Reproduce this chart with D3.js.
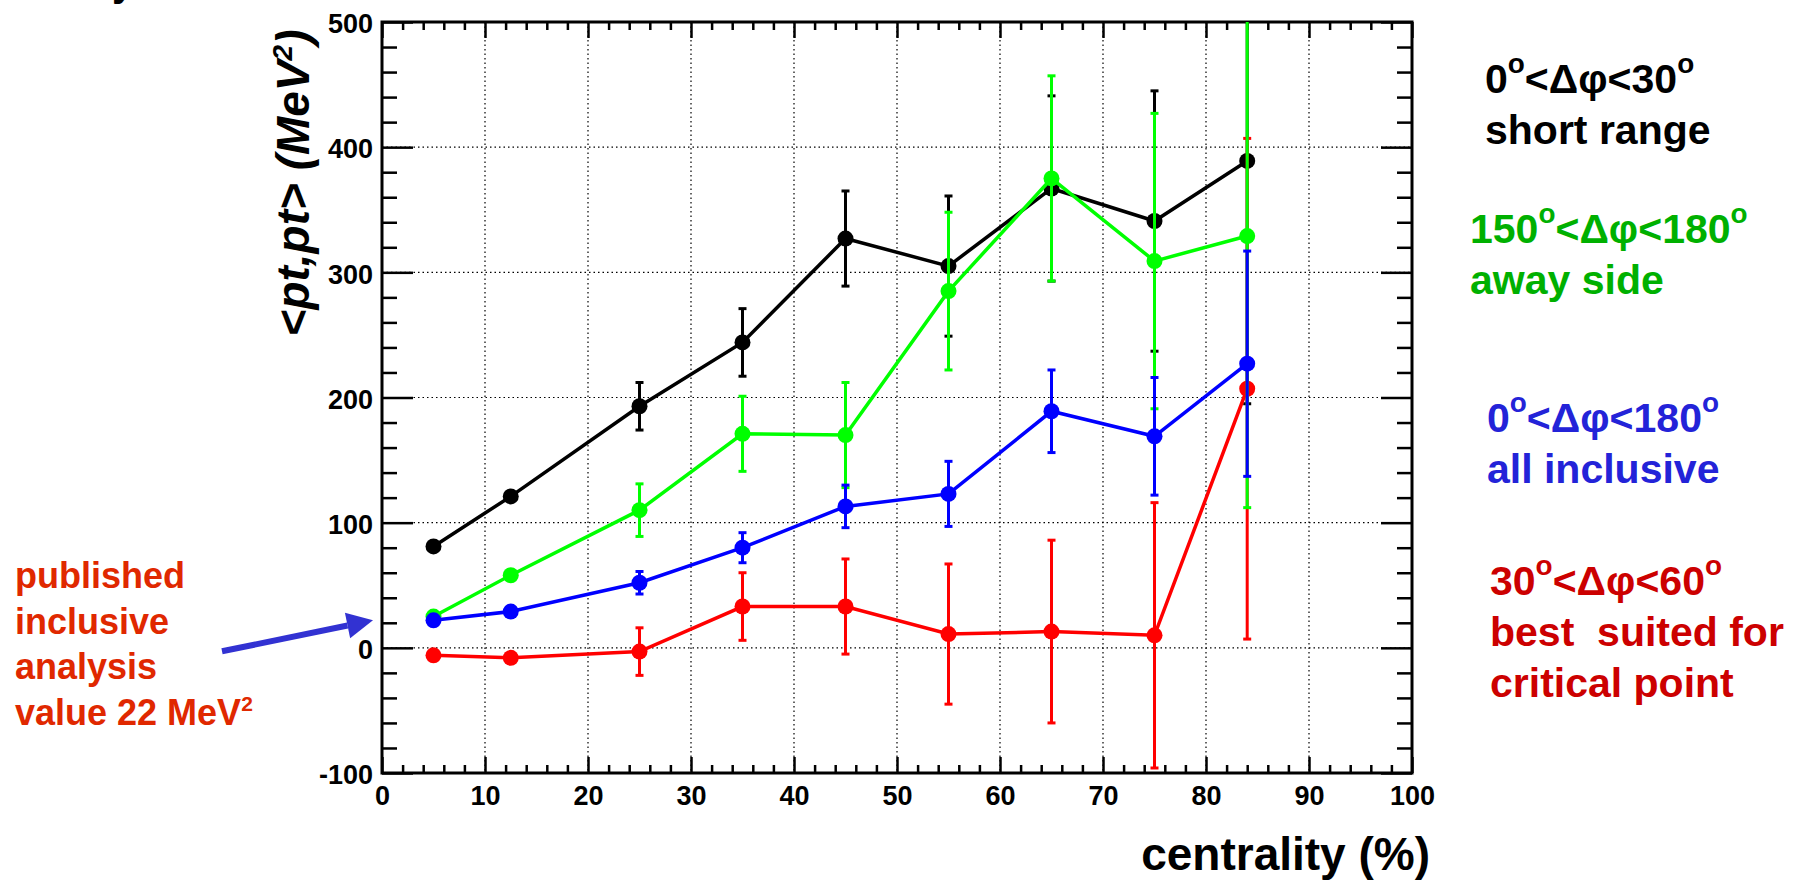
<!DOCTYPE html>
<html>
<head>
<meta charset="utf-8">
<script src="https://cdn.jsdelivr.net/npm/d3@7"></script>
<style>
  html, body { margin: 0; padding: 0; background: #fff; }
  svg { display: block; }
</style>
</head>
<body>
<svg id="chart" width="1801" height="882"></svg>
<script>
// Centrality bins (%) and <pt,pt> correlator values (MeV^2) with their errors
const centrality = [5, 12.5, 25, 35, 45, 55, 65, 75, 84];

const shortRange    = [81, 121, 193, 244, 327, 305, 367, 341, 389];
const shortRangeErr = [3, 3, 19, 27, 38, 56, 74, 104, 194];

const awaySide    = [25, 58, 110, 171, 170, 285, 375, 309, 329];
const awaySideErr = [4, 4, 21, 30, 42, 63, 82, 118, 217];

const inclusive    = [22, 29, 52, 80, 113, 123, 189, 169, 227];
const inclusiveErr = [4, 4, 9, 12, 17, 26, 33, 47, 90];

const criticalWin    = [-6, -8, -3, 33, 33, 11, 13, 10, 207];
const criticalWinErr = [3, 3, 19, 27, 38, 56, 73, 106, 200];

const xMajorTicks = [0, 10, 20, 30, 40, 50, 60, 70, 80, 90, 100];
const yMajorTicks = [-100, 0, 100, 200, 300, 400, 500];
const publishedValue = 22;

const SANS = "'Liberation Sans', Arial, Helvetica, sans-serif";
const NARROW = "'Liberation Sans Narrow', 'Liberation Sans', Arial, sans-serif";

const svg = d3.select("#chart");

const plot = { left: 382, right: 1412, top: 22, bottom: 773 };
const x = d3.scaleLinear().domain([0, 100]).range([plot.left, plot.right]);
const y = d3.scaleLinear().domain([-100, 500]).range([plot.bottom, plot.top]);

const xMinor = d3.range(0, 100.001, 2).filter(v => v % 10 !== 0);
const yMinor = d3.range(-100, 500.001, 20).filter(v => v % 100 !== 0);

// dotted grid
const grid = svg.append("g");
grid.selectAll("line.gx").data(xMajorTicks.slice(1, -1)).join("line")
  .attr("x1", d => x(d)).attr("x2", d => x(d))
  .attr("y1", plot.top).attr("y2", plot.bottom)
  .attr("stroke", "#000").attr("stroke-width", 1.2).attr("stroke-dasharray", "1.5,3");
grid.selectAll("line.gy").data(yMajorTicks.slice(1, -1)).join("line")
  .attr("y1", d => y(d)).attr("y2", d => y(d))
  .attr("x1", plot.left).attr("x2", plot.right)
  .attr("stroke", "#000").attr("stroke-width", 1.2).attr("stroke-dasharray", "1.5,3");

// axes with inward ticks
function styleAxis(g) {
  g.select(".domain").remove();
  g.selectAll(".tick line").attr("stroke", "#000").attr("stroke-width", 2.5);
}
function styleLabels(g) {
  g.selectAll("text")
    .attr("font-family", NARROW).attr("font-weight", "bold")
    .attr("font-size", 27).attr("fill", "#000");
}
const noLabel = () => "";
const plainNumber = d => String(d);

svg.append("g").attr("transform", `translate(0,${plot.bottom})`)
  .call(d3.axisBottom(x).tickValues(xMinor).tickSize(-8).tickFormat(noLabel)).call(styleAxis);
svg.append("g").attr("transform", `translate(0,${plot.bottom})`)
  .call(d3.axisBottom(x).tickValues(xMajorTicks).tickSize(-16).tickPadding(13).tickFormat(plainNumber))
  .call(styleAxis).call(styleLabels);

svg.append("g").attr("transform", `translate(0,${plot.top})`)
  .call(d3.axisTop(x).tickValues(xMinor).tickSize(-8).tickFormat(noLabel)).call(styleAxis);
svg.append("g").attr("transform", `translate(0,${plot.top})`)
  .call(d3.axisTop(x).tickValues(xMajorTicks).tickSize(-16).tickFormat(noLabel)).call(styleAxis);

svg.append("g").attr("transform", `translate(${plot.left},0)`)
  .call(d3.axisLeft(y).tickValues(yMinor).tickSize(-15).tickFormat(noLabel)).call(styleAxis);
svg.append("g").attr("transform", `translate(${plot.left},0)`)
  .call(d3.axisLeft(y).tickValues(yMajorTicks).tickSize(-31).tickPadding(9).tickFormat(plainNumber))
  .call(styleAxis).call(styleLabels)
  .call(g => g.selectAll("text").attr("dy", "0.4em"));

svg.append("g").attr("transform", `translate(${plot.right},0)`)
  .call(d3.axisRight(y).tickValues(yMinor).tickSize(-15).tickFormat(noLabel)).call(styleAxis);
svg.append("g").attr("transform", `translate(${plot.right},0)`)
  .call(d3.axisRight(y).tickValues(yMajorTicks).tickSize(-31).tickFormat(noLabel)).call(styleAxis);

// remove the empty label nodes of the unlabeled axes
svg.selectAll(".tick text").filter(function () { return this.textContent === ""; }).remove();

// frame
svg.append("rect")
  .attr("x", plot.left).attr("y", plot.top)
  .attr("width", plot.right - plot.left).attr("height", plot.bottom - plot.top)
  .attr("fill", "none").attr("stroke", "#000").attr("stroke-width", 3);

// data
svg.append("clipPath").attr("id", "plotClip").append("rect")
  .attr("x", plot.left).attr("y", plot.top)
  .attr("width", plot.right - plot.left).attr("height", plot.bottom - plot.top);

const series = [
  { values: shortRange,  errors: shortRangeErr,  color: "#000000" },
  { values: criticalWin, errors: criticalWinErr, color: "#ff0000" },
  { values: awaySide,    errors: awaySideErr,    color: "#00ff00" },
  { values: inclusive,   errors: inclusiveErr,   color: "#0000ff" }
];

const dataLayer = svg.append("g").attr("clip-path", "url(#plotClip)");
const line = d3.line().x(d => x(d.c)).y(d => y(d.v));

series.forEach(s => {
  const pts = centrality.map((c, i) => ({ c, v: s.values[i], e: s.errors[i] }));
  const g = dataLayer.append("g");
  g.append("path").datum(pts).attr("d", line)
    .attr("fill", "none").attr("stroke", s.color).attr("stroke-width", 3.5);
  const eb = g.selectAll("g.err").data(pts).join("g");
  eb.append("line")
    .attr("x1", d => x(d.c)).attr("x2", d => x(d.c))
    .attr("y1", d => y(d.v - d.e)).attr("y2", d => y(d.v + d.e))
    .attr("stroke", s.color).attr("stroke-width", 3);
  [-1, 1].forEach(sign => {
    eb.append("line")
      .attr("x1", d => x(d.c) - 4).attr("x2", d => x(d.c) + 4)
      .attr("y1", d => y(d.v + sign * d.e)).attr("y2", d => y(d.v + sign * d.e))
      .attr("stroke", s.color).attr("stroke-width", 3);
  });
  g.selectAll("circle").data(pts).join("circle")
    .attr("cx", d => x(d.c)).attr("cy", d => y(d.v)).attr("r", 8)
    .attr("fill", s.color);
});

// axis titles
svg.append("text")
  .attr("font-family", SANS).attr("font-weight", "bold").attr("font-style", "italic")
  .attr("transform", "translate(309,183) rotate(-90)")
  .attr("text-anchor", "middle").attr("font-size", 46)
  .call(t => {
    t.append("tspan").text("<pt,pt> (MeV");
    t.append("tspan").attr("font-size", 28).attr("dy", -17).text("2");
    t.append("tspan").attr("dy", 17).text(")");
  });

svg.append("text")
  .attr("font-family", SANS).attr("font-weight", "bold")
  .attr("x", 1430).attr("y", 870).attr("text-anchor", "end").attr("font-size", 46)
  .text("centrality (%)");

// fragment of the line above the plot
svg.append("text").attr("font-family", SANS).attr("font-weight", "bold")
  .attr("x", 112).attr("y", -4).attr("font-size", 40).text("y");

// legend labels: angle ranges with raised degree "o"
function degLabel(sel, parts, size) {
  let shift = 0;
  parts.forEach(p => {
    if (p === "o") {
      sel.append("tspan").attr("font-size", size * 0.68).attr("dy", -size * 0.5 - shift).text("o");
      shift = -size * 0.5;
    } else {
      sel.append("tspan").attr("dy", -shift).text(p);
      shift = 0;
    }
  });
}
const legend = [
  { x: 1485, y: 93,  color: "#000000", parts: ["0", "o", "<Δφ<30", "o"], lines: ["short range"] },
  { x: 1470, y: 243, color: "#00b000", parts: ["150", "o", "<Δφ<180", "o"], lines: ["away side"] },
  { x: 1487, y: 432, color: "#2323d8", parts: ["0", "o", "<Δφ<180", "o"], lines: ["all inclusive"] },
  { x: 1490, y: 595, color: "#cc0000", parts: ["30", "o", "<Δφ<60", "o"], lines: ["best\u00A0 suited for", "critical point"] }
];
legend.forEach(l => {
  const t = svg.append("text").attr("font-family", SANS).attr("font-weight", "bold")
    .attr("x", l.x).attr("y", l.y).attr("font-size", 41).attr("fill", l.color);
  degLabel(t, l.parts, 41);
  l.lines.forEach((s, i) => {
    svg.append("text").attr("font-family", SANS).attr("font-weight", "bold")
      .attr("x", l.x).attr("y", l.y + 51 * (i + 1))
      .attr("font-size", 41).attr("fill", l.color).text(s);
  });
});

// published value annotation
const noteColor = "#e02800";
["published", "inclusive", "analysis"].forEach((s, i) => {
  svg.append("text").attr("font-family", SANS).attr("font-weight", "bold")
    .attr("x", 15).attr("y", 588 + i * 45.7)
    .attr("font-size", 36).attr("fill", noteColor).text(s);
});
svg.append("text").attr("font-family", SANS).attr("font-weight", "bold")
  .attr("x", 15).attr("y", 725)
  .attr("font-size", 36).attr("fill", noteColor)
  .call(t => {
    t.append("tspan").text(`value ${publishedValue} MeV`);
    t.append("tspan").attr("font-size", 21).attr("dy", -14).text("2");
  });

const tip = { x: plot.left - 9, y: y(publishedValue) };
const tail = { x: 222, y: tip.y + 31 };
const ang = Math.atan2(tip.y - tail.y, tip.x - tail.x);
const headLen = 26, headHalf = 13;
const base = { x: tip.x - headLen * Math.cos(ang), y: tip.y - headLen * Math.sin(ang) };
svg.append("line")
  .attr("x1", tail.x).attr("y1", tail.y).attr("x2", base.x).attr("y2", base.y)
  .attr("stroke", "#3232d2").attr("stroke-width", 6);
svg.append("path")
  .attr("d", `M${tip.x},${tip.y}L${base.x - headHalf * Math.sin(ang)},${base.y + headHalf * Math.cos(ang)}L${base.x + headHalf * Math.sin(ang)},${base.y - headHalf * Math.cos(ang)}Z`)
  .attr("fill", "#3232d2");
</script>
</body>
</html>
